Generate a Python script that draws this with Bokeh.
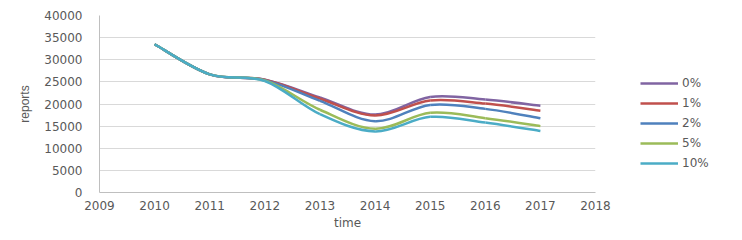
from bokeh.plotting import figure
from bokeh.models import Legend, LegendItem, FixedTicker, ColumnDataSource
from bokeh.embed import file_html
from bokeh.resources import INLINE

years = [2010, 2011, 2012, 2013, 2014, 2015, 2016, 2017]
s0 = [33500, 26700, 25500, 21500, 17600, 21600, 21000, 19600]
s1 = [33500, 26700, 25500, 21200, 17400, 20800, 20100, 18500]
s2 = [33500, 26700, 25400, 20700, 16100, 19800, 18900, 16800]
s5 = [33500, 26700, 25300, 18700, 14400, 18000, 16800, 15000]
s10 = [33500, 26700, 25200, 17700, 13800, 17100, 15800, 13900]
series_names = ["0%", "1%", "2%", "5%", "10%"]
series_vals = [s0, s1, s2, s5, s10]
colors = ["#8064a2", "#c0504d", "#4f81bd", "#9bbb59", "#4bacc6"]
x_ticks = list(range(2009, 2019))
y_ticks = list(range(0, 40001, 5000))

p = figure(frame_width=496, frame_height=177, output_backend="svg", toolbar_location=None,
           x_range=(2009, 2018), y_range=(0, 40000),
           min_border_left=99, min_border_top=15, min_border_bottom=40,
           min_border_right=10)
p.outline_line_color = None
p.background_fill_color = "white"
p.border_fill_color = "white"

def bez(xs, ys, t=1/6.0):
    n = len(xs)
    out = dict(x0=[], y0=[], x1=[], y1=[], cx0=[], cy0=[], cx1=[], cy1=[])
    for i in range(n - 1):
        im = max(i - 1, 0)
        ip2 = min(i + 2, n - 1)
        out["x0"].append(xs[i]); out["y0"].append(ys[i])
        out["x1"].append(xs[i + 1]); out["y1"].append(ys[i + 1])
        out["cx0"].append(xs[i] + (xs[i + 1] - xs[im]) * t)
        out["cy0"].append(ys[i] + (ys[i + 1] - ys[im]) * t)
        out["cx1"].append(xs[i + 1] - (xs[ip2] - xs[i]) * t)
        out["cy1"].append(ys[i + 1] - (ys[ip2] - ys[i]) * t)
    return out

nan = float("nan")
items = []
for name, vals, c in zip(series_names, series_vals, colors):
    src = ColumnDataSource(bez(years, vals))
    p.bezier(x0="x0", y0="y0", x1="x1", y1="y1", cx0="cx0", cy0="cy0",
             cx1="cx1", cy1="cy1", source=src, line_color=c, line_width=2.5)
    dummy = p.line(x=[nan, nan], y=[nan, nan], line_color=c, line_width=2.5)
    items.append(LegendItem(label=name, renderers=[dummy]))

legend = Legend(items=items, location=(45, 22), glyph_width=38, glyph_height=14,
                spacing=6, label_standoff=4, padding=0, margin=0,
                border_line_color=None, background_fill_alpha=0,
                label_text_font="DejaVu Sans", label_text_font_size="12px",
                label_text_color="#595959", label_height=14)
p.add_layout(legend, "right")

p.xaxis.ticker = FixedTicker(ticks=x_ticks)
p.yaxis.ticker = FixedTicker(ticks=y_ticks)
p.xgrid.grid_line_color = None
p.ygrid.grid_line_color = "#d9d9d9"
p.ygrid.grid_line_width = 1
for ax in (p.xaxis, p.yaxis):
    ax.axis_line_color = "#bfbfbf"
    ax.major_tick_line_color = None
    ax.minor_tick_line_color = None
    ax.major_label_text_font = "DejaVu Sans"
    ax.major_label_text_font_size = "12px"
    ax.major_label_text_color = "#595959"
    ax.axis_label_text_color = "#595959"
    ax.axis_label_text_font_style = "normal"
p.xaxis.major_label_standoff = 2
p.yaxis.major_label_standoff = 11
p.xaxis.axis_label = "time"
p.xaxis.axis_label_text_font = "DejaVu Sans"
p.xaxis.axis_label_text_font_size = "12px"
p.xaxis.axis_label_standoff = 3
p.yaxis.axis_label = "reports"
p.yaxis.axis_label_text_font = "Liberation Sans"
p.yaxis.axis_label_text_font_size = "12px"
p.yaxis.axis_label_standoff = 9

open("out.html", "w").write(file_html(p, INLINE))
